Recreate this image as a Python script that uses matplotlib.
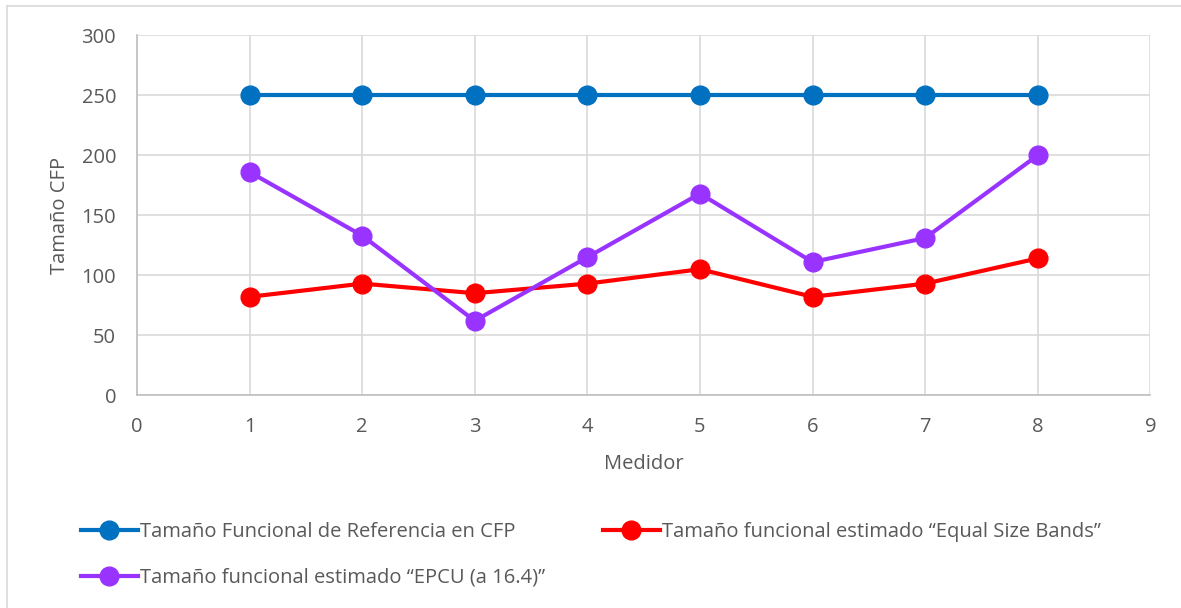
import numpy as np
import matplotlib.pyplot as plt
from matplotlib.lines import Line2D

plt.rcParams['font.family'] = ['Open Sans', 'DejaVu Sans']

medidor = [1, 2, 3, 4, 5, 6, 7, 8]
referencia = [250, 250, 250, 250, 250, 250, 250, 250]
equal_size = [82, 93, 85, 93, 105, 82, 93, 114]
epcu = [186, 133, 62, 115, 168, 111, 131, 200]

labels = ['Tamaño Funcional de Referencia en CFP',
          'Tamaño funcional estimado “Equal Size Bands”',
          'Tamaño funcional estimado “EPCU (a 16.4)”']
colors = ['#0070C0', '#FF0000', '#9933FF']
txt = '#595959'
fs = 14.5

fig = plt.figure(figsize=(11.81, 6.08), dpi=100)
ax = fig.add_axes([0.116, 0.350, 0.858, 0.592])

h = []
for vals, col in zip([referencia, equal_size, epcu], colors):
    line, = ax.plot(medidor, vals, color=col, lw=3, marker='o', ms=13.5, zorder=3)
    h.append(line)

ax.set_xlim(0, 9)
ax.set_ylim(0, 300)
ax.set_xticks(range(0, 10))
ax.set_yticks(range(0, 301, 50))
ax.grid(True, color='#d9d9d9', lw=1.2)
ax.set_axisbelow(True)
for s in ['top', 'right']:
    ax.spines[s].set_visible(False)
for s in ['left', 'bottom']:
    ax.spines[s].set_color('#bfbfbf')
    ax.spines[s].set_linewidth(1.2)
ax.tick_params(length=0, labelsize=fs, colors=txt)
ax.tick_params(axis='x', pad=16)
ax.tick_params(axis='y', pad=15)
ax.set_xlabel('Medidor', fontsize=fs, color=txt, labelpad=12)
ax.set_ylabel('Tamaño CFP', fontsize=fs, color=txt, labelpad=8)

fig.legend([h[0], h[2], h[1]], [labels[0], labels[2], labels[1]], ncol=2,
           loc='upper left', bbox_to_anchor=(0.062, 0.155), frameon=False,
           fontsize=fs, labelcolor=txt, handlelength=2.8, handletextpad=0.1,
           columnspacing=2.9, labelspacing=1.3, borderaxespad=0)

# chart area border (only top and left visible in the crop)
fig.add_artist(Line2D([0.006, 1.0], [0.990, 0.990], transform=fig.transFigure,
                      color='#d9d9d9', lw=1.2))
fig.add_artist(Line2D([0.006, 0.006], [0.0, 0.990], transform=fig.transFigure,
                      color='#d9d9d9', lw=1.2))

fig.savefig('out.png', dpi=100)
